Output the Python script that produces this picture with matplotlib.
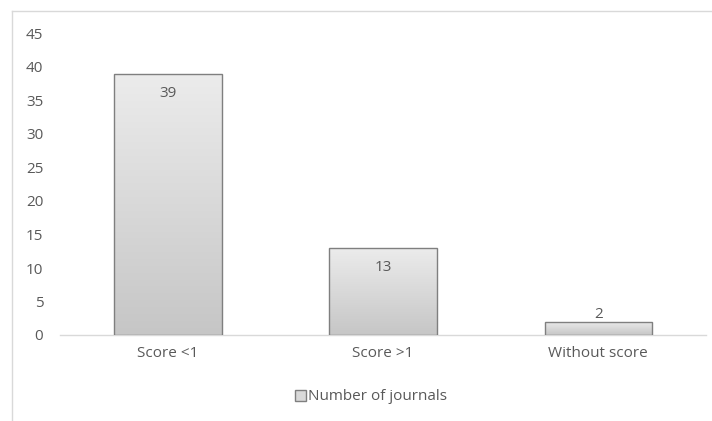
import numpy as np
import matplotlib
matplotlib.use("Agg")
import matplotlib.pyplot as plt
from matplotlib.patches import Rectangle
from matplotlib.colors import LinearSegmentedColormap
from matplotlib.lines import Line2D

categories = ["Score <1", "Score >1", "Without score"]
journals = [39, 13, 2]
yticks = [0, 5, 10, 15, 20, 25, 30, 35, 40, 45]
series_name = "Number of journals"

text_color = "#595959"
edge_color = "#7f7f7f"
fs = 11
plt.rcParams["font.family"] = ["Open Sans", "DejaVu Sans"]

fig = plt.figure(figsize=(7.12, 4.21), dpi=100)
W, H = 712, 421
ax = fig.add_axes([60 / W, (H - 335) / H, (706 - 60) / W, (335 - 33.5) / H])

x = np.arange(len(categories))
bars = ax.bar(x, journals, width=0.5, facecolor="none", edgecolor=edge_color,
              linewidth=1.0, zorder=3)

# vertical gradient inside each bar
grad = LinearSegmentedColormap.from_list("g", ["#c6c6c6", "#ececec"])
gimg = np.linspace(0, 1, 256).reshape(-1, 1)
for b in bars:
    x0, y0 = b.get_x(), b.get_y()
    w, h = b.get_width(), b.get_height()
    im = ax.imshow(gimg, cmap=grad, aspect="auto", origin="lower",
                   extent=[x0, x0 + w, y0, y0 + h], zorder=2)
    clip = Rectangle((x0, y0), w, h, transform=ax.transData)
    im.set_clip_path(clip)

# value labels: inside the top for tall bars, above for short ones
for xi, v in zip(x, journals):
    dy = -14.4 if v >= 5 else 5
    ax.annotate(str(v), (xi, v), xytext=(0, dy), textcoords="offset points",
                ha="center", va="center", color=text_color, fontsize=fs, zorder=4)

ax.set_xlim(-0.5, len(categories) - 0.5)
ax.set_ylim(0, 45)
ax.set_yticks(yticks)
ax.set_yticklabels([str(t) for t in yticks])
ax.set_xticks(x)
ax.set_xticklabels(categories)
ax.tick_params(axis="both", length=0, colors=text_color, labelsize=fs)
ax.tick_params(axis="y", pad=12)
ax.tick_params(axis="x", pad=8)
for s in ["top", "right", "left"]:
    ax.spines[s].set_visible(False)
ax.spines["bottom"].set_color("#d9d9d9")
ax.spines["bottom"].set_linewidth(1.0)
ax.spines["bottom"].set_zorder(1)

handle = Rectangle((0, 0), 1, 1, facecolor="#d9d9d9", edgecolor=edge_color, linewidth=1.0)
leg = fig.legend([handle], [series_name], loc="center", bbox_to_anchor=(371 / W, (H - 397) / H),
                 frameon=False, fontsize=fs, handlelength=0.75, handleheight=0.75,
                 handletextpad=0.15, labelcolor=text_color)

# chart area border (top and left edges)
fig.add_artist(Line2D([12 / W, 1.0], [(H - 11) / H, (H - 11) / H], color="#d9d9d9",
                      linewidth=1.0, transform=fig.transFigure))
fig.add_artist(Line2D([12 / W, 12 / W], [0, (H - 11) / H], color="#d9d9d9",
                      linewidth=1.0, transform=fig.transFigure))

fig.savefig("out.png", dpi=100)
